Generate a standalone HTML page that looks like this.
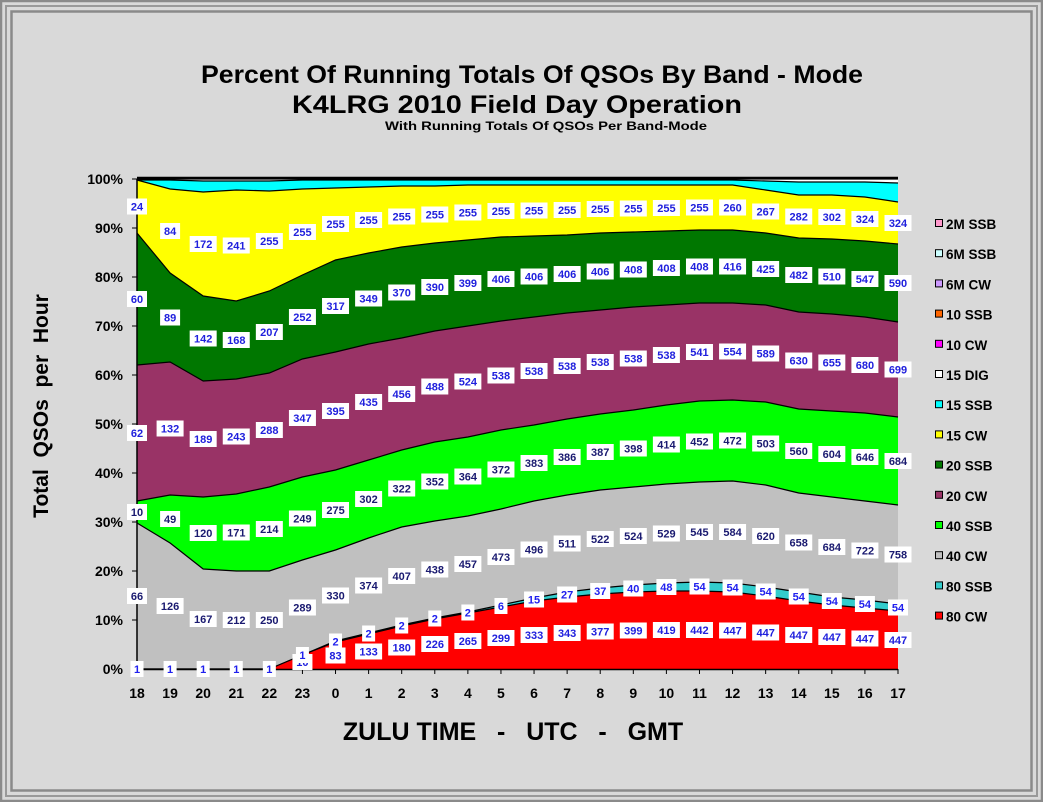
<!DOCTYPE html>
<html><head><meta charset="utf-8">
<style>
html,body{margin:0;padding:0;width:1043px;height:802px;overflow:hidden;background:#d9d9d9;}
svg{display:block;font-family:"Liberation Sans",Arial,sans-serif;}
text{white-space:pre;}
</style></head><body>
<svg id="s" width="1043" height="802" viewBox="0 0 1043 802" xmlns="http://www.w3.org/2000/svg">
<rect x="0" y="0" width="1043" height="802" fill="#d9d9d9"/>
<rect x="1" y="1" width="1041" height="800" fill="none" stroke="#8a8a8a" stroke-width="2.5"/>
<rect x="6" y="6" width="1031" height="790" fill="none" stroke="#999" stroke-width="2"/>
<rect x="11.5" y="11.5" width="1020" height="779" fill="none" stroke="#8a8a8a" stroke-width="2.5"/>
<text x="201" y="83" font-size="25" font-weight="bold" textLength="662" lengthAdjust="spacingAndGlyphs">Percent Of Running Totals Of QSOs By Band - Mode</text>
<text x="292" y="113" font-size="25" font-weight="bold" textLength="450" lengthAdjust="spacingAndGlyphs">K4LRG 2010 Field Day Operation</text>
<text x="385" y="130" font-size="12" font-weight="bold" textLength="322" lengthAdjust="spacingAndGlyphs">With Running Totals Of QSOs Per Band-Mode</text>
<text transform="translate(48,406) rotate(-90)" text-anchor="middle" font-size="21" font-weight="bold">Total  QSOs  per  Hour</text>
<text x="513" y="740" text-anchor="middle" font-size="25" font-weight="bold">ZULU TIME   -   UTC   -   GMT</text>
<g id="plot"></g>
</svg>
<script>
(function(){
var NS="http://www.w3.org/2000/svg";
var g=document.getElementById('plot');
function el(t,a,p){var e=document.createElementNS(NS,t);for(var k in a)e.setAttribute(k,a[k]);(p||g).appendChild(e);return e;}
var X0=137,DX=(898-137)/23,Y0=669;
function X(i){return X0+i*DX;}
var b80cw=[669,669,669,669,669,655,642,634,626,619,613,607,601,597,594,592,591,591,592,596,601,605,608,611];
var b80ssb=[669,669,669,669,669,655,641,633,625,618,612,605,598,592,588,585,583,582,583,587,592,597,600,604];
var b40cw=[523,543,569,571,571,560,550,538,527,521,516,509,501,495,490,487,484,482,481,485,493,497,501,505];
var b40ssb=[501,495,497,494,487,477,470,460,450,442,437,430,425,419,414,410,405,401,400,402,409,411,413,417];
var b20cw=[365,362,381,379,373,359,352,344,338,331,326,321,317,313,310,307,305,303,303,305,312,314,317,322];
var b20ssb=[233,273,296,301,291,275,260,253,247,243,240,237,236,235,233,232,231,230,230,233,238,239,241,244];
var b15cw=[180,189,192,190,191,189,188,187,186,186,185,185,185,185,185,185,185,185,185,190,195,195,197,202];
var b15ssb=[180,180,181,181,181,180,180,180,180,180,180,180,180,180,180,180,180,180,180,181,182,182,182,183];
var base=[],topl=[];for(var i=0;i<24;i++){base.push(Y0);topl.push(179);}
function band(lo,hi,col){var d="M"+X(0)+","+hi[0];for(var i=1;i<24;i++)d+=" L"+X(i).toFixed(1)+","+hi[i];for(var i=23;i>=0;i--)d+=" L"+X(i).toFixed(1)+","+lo[i];d+="Z";el('path',{d:d,fill:col});var l="M"+X(0)+","+hi[0];for(var i=1;i<24;i++)l+=" L"+X(i).toFixed(1)+","+hi[i];el('path',{d:l,fill:"none",stroke:"#000","stroke-width":1.2});}
el('rect',{x:X0,y:179,width:898-X0,height:490,fill:"#fff"});
band(b15ssb,topl,"#fff");
band(b15cw,b15ssb,"#00ffff");
band(b20ssb,b15cw,"#ffff00");
band(b20cw,b20ssb,"#007700");
band(b40ssb,b20cw,"#993366");
band(b40cw,b40ssb,"#00ff00");
band(b80ssb,b40cw,"#c0c0c0");
band(b80cw,b80ssb,"#33cccc");
band(base,b80cw,"#ff0000");
el('line',{x1:X0,y1:178,x2:898,y2:178,stroke:"#000","stroke-width":2.5});
el('line',{x1:X0,y1:179,x2:X0,y2:670,stroke:"#000","stroke-width":1.5});
el('line',{x1:X0,y1:669.5,x2:898,y2:669.5,stroke:"#000","stroke-width":1.5});
for(var k=0;k<=10;k++){var y=Y0-k*49;el('line',{x1:X0-5,y1:y,x2:X0,y2:y,stroke:"#000"});var t=el('text',{x:123,y:y+5,"text-anchor":"end","font-size":14,"font-weight":"bold"});t.textContent=(k*10)+"%";}
var xl=[18,19,20,21,22,23,0,1,2,3,4,5,6,7,8,9,10,11,12,13,14,15,16,17];
for(var i=0;i<24;i++){el('line',{x1:X(i),y1:669,x2:X(i),y2:674,stroke:"#000"});var t=el('text',{x:X(i),y:698,"text-anchor":"middle","font-size":14,"font-weight":"bold"});t.textContent=xl[i];}
var V={
cw80:[null,null,null,null,null,10,83,133,180,226,265,299,333,343,377,399,419,442,447,447,447,447,447,447],
ssb80:[1,1,1,1,1,1,2,2,2,2,2,6,15,27,37,40,48,54,54,54,54,54,54,54],
cw40:[66,126,167,212,250,289,330,374,407,438,457,473,496,511,522,524,529,545,584,620,658,684,722,758],
ssb40:[10,49,120,171,214,249,275,302,322,352,364,372,383,386,387,398,414,452,472,503,560,604,646,684],
cw20:[62,132,189,243,288,347,395,435,456,488,524,538,538,538,538,538,538,541,554,589,630,655,680,699],
ssb20:[60,89,142,168,207,252,317,349,370,390,399,406,406,406,406,408,408,408,416,425,482,510,547,590],
cw15:[24,84,172,241,255,255,255,255,255,255,255,255,255,255,255,255,255,255,260,267,282,302,324,324]};
function labels(vals,lo,hi,col){for(var i=0;i<24;i++){if(vals[i]==null)continue;var y=(lo[i]+hi[i])/2;var s=String(vals[i]);var w=s.length*7+6;el('rect',{x:X(i)-w/2,y:y-8,width:w,height:16,fill:"#fff"});var t=el('text',{x:X(i),y:y+4,"text-anchor":"middle","font-size":11,"font-weight":"bold",fill:col});t.textContent=s;}}
labels(V.cw80,base,b80cw,"#2020dd");
labels(V.ssb80,b80cw,b80ssb,"#2020ee");
labels(V.cw40,b80ssb,b40cw,"#1a1a70");
labels(V.ssb40,b40cw,b40ssb,"#1a1a70");
labels(V.cw20,b40ssb,b20cw,"#2020dd");
labels(V.ssb20,b20cw,b20ssb,"#2020dd");
labels(V.cw15,b20ssb,b15cw,"#2020dd");
var leg=[["2M SSB","#ff99cc"],["6M SSB","#ccffff"],["6M CW","#cc99ff"],["10 SSB","#ff6600"],["10 CW","#ff00ff"],["15 DIG","#ffffff"],["15 SSB","#00ffff"],["15 CW","#ffff00"],["20 SSB","#007700"],["20 CW","#993366"],["40 SSB","#00ff00"],["40 CW","#c0c0c0"],["80 SSB","#33cccc"],["80 CW","#ff0000"]];
for(var j=0;j<leg.length;j++){var y=224+j*30.2;el('rect',{x:935.5,y:y-4.5,width:7,height:7,fill:leg[j][1],stroke:"#000","stroke-width":1});var t=el('text',{x:946,y:y+5,"font-size":13.5,"font-weight":"bold"});t.textContent=leg[j][0];}
})();
</script>
</body></html>
